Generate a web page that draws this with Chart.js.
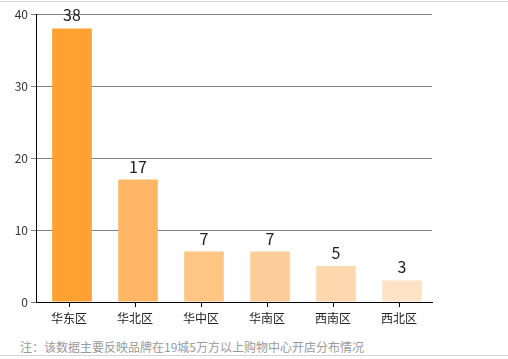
<!DOCTYPE html>
<html>
<head>
<meta charset="utf-8">
<script src="https://cdn.jsdelivr.net/npm/chart.js@4"></script>
<style>
  body { margin: 0; width: 508px; height: 359px; background: #fff; position: relative; overflow: hidden; }
  #wrap { position: absolute; left: 0; top: 0; width: 508px; height: 335px; }
  .line { position: absolute; left: 0; width: 508px; height: 1px; background: #d4d4d4; }
  #note { position: absolute; left: 20px; top: 338px; font: 12px "Microsoft YaHei", "Noto Sans CJK SC", sans-serif; color: #9a9a9a; white-space: nowrap; }
</style>
</head>
<body>
<div class="line" style="top:1px"></div>
<div id="wrap"><canvas id="myChart" width="508" height="335"></canvas></div>
<div id="note">注：该数据主要反映品牌在19城5万方以上购物中心开店分布情况</div>
<div class="line" style="top:355px"></div>
<script>
const regions = ["华东区", "华北区", "华中区", "华南区", "西南区", "西北区"];
const storeCounts = [38, 17, 7, 7, 5, 3];
const barColors = ["#ffa033", "#ffb766", "#fec584", "#fdcd99", "#fed7ae", "#ffe3c4"];
const yTicks = [0, 10, 20, 30, 40];

const fontFamily = '"Microsoft YaHei", "Noto Sans CJK SC", sans-serif';
const barShift = 3; // bars sit a little right of their ticks in the original

const shiftBars = {
  id: "shiftBars",
  beforeDatasetsDraw(chart) {
    chart.ctx.save();
    chart.ctx.translate(barShift, 0);
  },
  afterDatasetsDraw(chart) {
    chart.ctx.restore();
  },
};

// numbers above each bar
const valueLabels = {
  id: "valueLabels",
  afterDatasetsDraw(chart) {
    const ctx = chart.ctx;
    const meta = chart.getDatasetMeta(0);
    ctx.save();
    ctx.font = "16px " + fontFamily;
    ctx.fillStyle = "#222";
    ctx.textAlign = "center";
    ctx.textBaseline = "bottom";
    meta.data.forEach((bar, i) => {
      ctx.fillText(storeCounts[i], bar.x + barShift, bar.y - 5);
    });
    ctx.restore();
  },
};

const myChart = new Chart(document.getElementById("myChart").getContext("2d"), {
  type: "bar",
  data: {
    labels: regions,
    datasets: [
      {
        data: storeCounts,
        backgroundColor: barColors,
        borderWidth: 0,
        barPercentage: 0.6,
        categoryPercentage: 1,
      },
    ],
  },
  options: {
    responsive: false,
    animation: false,
    layout: { padding: { top: 14, right: 76, left: 0, bottom: 0 } },
    plugins: { legend: { display: false }, tooltip: { enabled: false } },
    scales: {
      x: {
        grid: { display: true, drawOnChartArea: false, offset: false, color: "#000", tickLength: 5 },
        border: { color: "#000", width: 1 },
        ticks: { color: "#222", font: { size: 12, family: fontFamily }, padding: 4 },
        afterFit(scale) { scale.height = 33; },
      },
      y: {
        min: 0,
        max: 40,
        afterBuildTicks(scale) { scale.ticks = yTicks.map((v) => ({ value: v })); },
        grid: { color: "#808080", tickLength: 5 },
        border: { color: "#000", width: 1 },
        ticks: { color: "#333", font: { size: 12, family: fontFamily }, padding: 3 },
        afterFit(scale) { scale.width = 36; },
      },
    },
  },
  plugins: [shiftBars, valueLabels],
});
</script>
</body>
</html>
